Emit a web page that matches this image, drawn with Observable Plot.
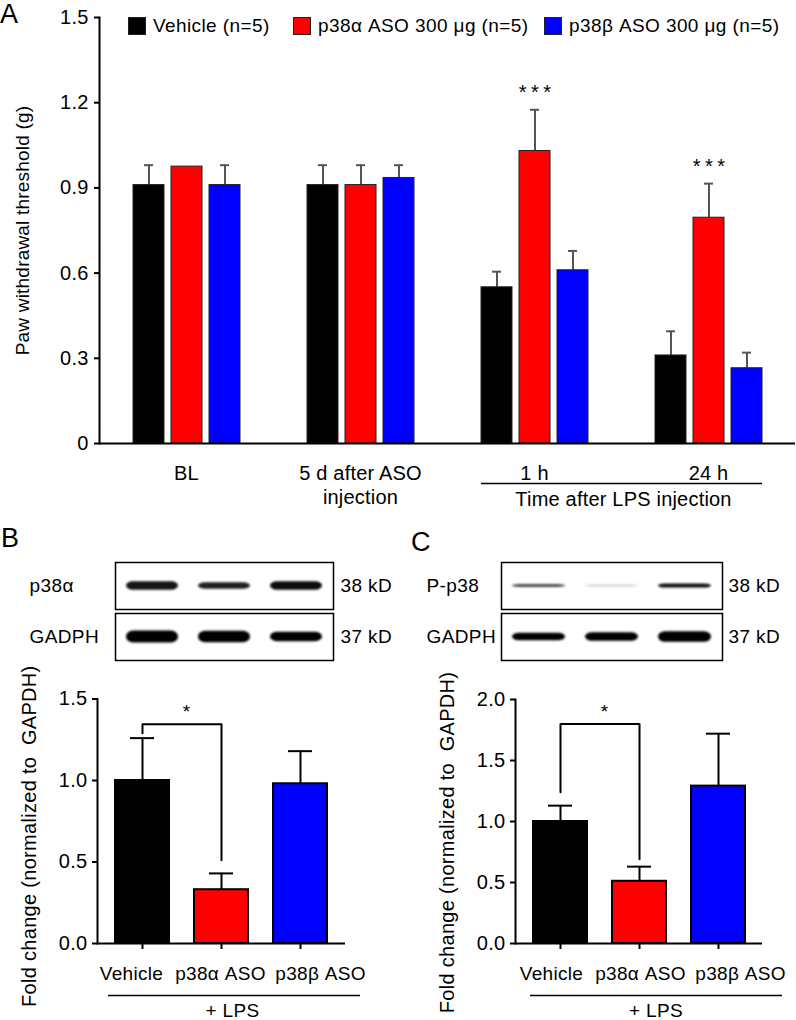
<!DOCTYPE html>
<html><head><meta charset="utf-8">
<script src="https://cdn.jsdelivr.net/npm/d3@7"></script>
<script src="https://cdn.jsdelivr.net/npm/@observablehq/plot@0.6"></script>
<style>
html,body{margin:0;padding:0;background:#fff;}
#fig{position:relative;width:796px;height:1020px;overflow:hidden;font-family:"Liberation Sans",Arial,sans-serif;color:#000;}
#fig svg{position:absolute;overflow:visible;}
.letter{position:absolute;font-size:27px;line-height:1.2;}
.leg{position:absolute;top:17px;height:17px;font-size:19px;display:flex;align-items:center;white-space:nowrap;letter-spacing:0.4px;}
.sw{width:16px;height:16px;border:1px solid #222;margin-right:7px;box-sizing:content-box;}
</style></head><body><div id="fig"></div>
<script>
// ---------- Panel A data ----------
const timepoints = ["BL", "5 d after ASO\ninjection", "1 h", "24 h"];
const seriesA = ["Vehicle (n=5)", "p38α ASO 300 μg (n=5)", "p38β ASO 300 μg (n=5)"];
const colorsA = ["#000000", "#ff0000", "#0000ff"];
const vehicleA = [0.91, 0.91, 0.55, 0.31];
const vehicleErrA = [0.07, 0.07, 0.055, 0.085];
const alphaA = [0.975, 0.91, 1.03, 0.795];
const alphaErrA = [0.0, 0.07, 0.145, 0.12];
const betaA = [0.91, 0.935, 0.61, 0.265];
const betaErrA = [0.07, 0.045, 0.068, 0.055];
const starsA = ["", "", "*\u2009*\u2009*", "*\u2009*\u2009*"];
const yTicksA = [0, 0.3, 0.6, 0.9, 1.2, 1.5];
const yTickLabelsA = ["0", "0.3", "0.6", "0.9", "1.2", "1.5"];
const lpsSpanA = ["1 h", "24 h"];

// ---------- Panels B / C data ----------
const groupsBC = ["Vehicle", "p38α ASO", "p38β ASO"];
const colorsBC = ["#000000", "#ff0000", "#0000ff"];
const foldB = [1.0, 0.33, 0.98];
const foldErrB = [0.26, 0.10, 0.20];
const foldC = [1.0, 0.51, 1.29];
const foldErrC = [0.13, 0.12, 0.43];
const yTicksB = [0, 0.5, 1.0, 1.5];
const yTicksC = [0, 0.5, 1.0, 1.5, 2.0];
const bracketB = [1.29, 1.345, 0.51];
const bracketC = [1.24, 1.80, 0.69];

// western blot rows (relative band thickness / darkness per lane)
const blotRowsB = ["p38α", "GADPH"];
const blotRowsC = ["P-p38", "GADPH"];
const kD = ["38 kD", "37 kD"];
const bandThickB = [[0.18, 0.14, 0.18], [0.26, 0.24, 0.2]];
const bandDarkB = [[0.92, 0.88, 0.95], [1, 1, 1]];
const bandThickC = [[0.06, 0.05, 0.09], [0.16, 0.18, 0.22]];
const bandDarkC = [[0.7, 0.15, 0.95], [1, 1, 1]];

const FONT = "Liberation Sans, Arial, sans-serif";
const fig = document.getElementById("fig");
function place(el, left, top) { el.style.left = left + "px"; el.style.top = top + "px"; fig.appendChild(el); }

// ---------- Panel A ----------
const errsA = [vehicleErrA, alphaErrA, betaErrA];
const rowsA = [];
timepoints.forEach((t, i) => {
  [vehicleA, alphaA, betaA].forEach((arr, j) => {
    rowsA.push({group: t, series: seriesA[j], value: arr[i], err: errsA[j][i], star: j === 1 ? starsA[i] : ""});
  });
});
const yTickRowsA = yTicksA.map((v, i) => ({v, label: yTickLabelsA[i]}));

const plotA = Plot.plot({
  width: 796, height: 520,
  marginLeft: 97, marginRight: 0, marginTop: 17, marginBottom: 77,
  style: {fontFamily: FONT, fontSize: "20px", background: "transparent", letterSpacing: "0.2px"},
  fx: {domain: timepoints, padding: 0, axis: null},
  x: {domain: seriesA, paddingInner: 0.195, paddingOuter: 0.85, axis: null},
  y: {domain: [0, 1.5], axis: null},
  color: {domain: seriesA, range: colorsA},
  marks: [
    Plot.axisY({ticks: yTicksA, tickFormat: () => "", tickSize: 5, strokeWidth: 2, label: null}),
    Plot.text(yTickRowsA, {y: "v", text: "label", frameAnchor: "left", textAnchor: "end", dx: -11,
      fontSize: 20, facetAnchor: "left"}),
    Plot.axisY({ticks: [], label: "Paw withdrawal threshold (g)", labelAnchor: "center", labelOffset: 84, labelArrow: "none", fontSize: 19}),
    Plot.axisFx({anchor: "bottom", tickSize: 0, tickPadding: 19, fontSize: 20, lineHeight: 1.2, label: null}),
    Plot.frame({anchor: "left", facetAnchor: "left", strokeWidth: 2}),
    Plot.ruleX(rowsA.filter(d => d.err > 0), {fx: "group", x: "series", y1: "value", y2: d => d.value + d.err, stroke: "#555", strokeWidth: 2}),
    Plot.tickY(rowsA.filter(d => d.err > 0), {fx: "group", x: "series", y: d => d.value + d.err, stroke: "#555", strokeWidth: 2, insetLeft: 11, insetRight: 11}),
    Plot.barY(rowsA, {fx: "group", x: "series", y: "value", fill: "series", stroke: "#222", strokeWidth: 1}),
    Plot.ruleY([0], {strokeWidth: 2}),
    Plot.text(rowsA.filter(d => d.star), {fx: "group", x: "series", y: d => d.value + d.err, text: "star", dy: -17, fontSize: 20}),
    Plot.ruleY([lpsSpanA[0]], {fx: d => d, y: 0, dy: 40, insetLeft: 34, strokeWidth: 1.5}),
    Plot.ruleY([lpsSpanA[1]], {fx: d => d, y: 0, dy: 40, insetRight: 33, strokeWidth: 1.5}),
    Plot.text([lpsSpanA[0]], {fx: d => d, frameAnchor: "bottom-right", text: () => "Time after LPS injection",
      textAnchor: "middle", lineAnchor: "top", dy: 48, dx: 2, fontSize: 20})
  ]
});
place(plotA, 0, 0);

// legend A
seriesA.forEach((s, i) => {
  const item = document.createElement("div");
  item.className = "leg";
  const sw = document.createElement("div");
  sw.className = "sw";
  sw.style.background = colorsA[i];
  const tx = document.createElement("span");
  tx.textContent = s;
  item.appendChild(sw); item.appendChild(tx);
  place(item, [128, 293, 544][i], 17);
});

// ---------- Blots ----------
function blotChart({rows, thick, dark, width, marginLeft, marginRight, labelDx, kdDx}) {
  const bands = [];
  rows.forEach((r, i) => groupsBC.forEach((g, j) => bands.push({row: r, lane: g, t: thick[i][j], o: dark[i][j]})));
  const labels = rows.map((r, i) => ({row: r, kd: kD[i]}));
  return Plot.plot({
    width, height: 125, marginTop: 17, marginBottom: 10, marginLeft, marginRight,
    style: {fontFamily: FONT, fontSize: "19px", background: "transparent", letterSpacing: "0.4px"},
    fy: {domain: rows, paddingInner: 0.08, paddingOuter: 0, axis: null},
    x: {domain: groupsBC, padding: 0, axis: null},
    y: {domain: [-1, 1], axis: null},
    marks: [
      Plot.frame({strokeWidth: 1.5}),
      Plot.barY(bands, {fy: "row", x: "lane", y1: d => -d.t, y2: d => d.t, fill: "black", fillOpacity: "o",
        insetLeft: 10, insetRight: 10, rx: 7, imageFilter: "blur(0.9px)"}),
      Plot.text(labels, {fy: "row", frameAnchor: "left", text: "row", textAnchor: "start", dx: labelDx, fontSize: 19}),
      Plot.text(labels, {fy: "row", frameAnchor: "right", text: "kd", textAnchor: "start", dx: kdDx, fontSize: 19})
    ]
  });
}
place(blotChart({rows: blotRowsB, thick: bandThickB, dark: bandDarkB, width: 400, marginLeft: 115, marginRight: 67, labelDx: -86, kdDx: 7}), 0, 545);
place(blotChart({rows: blotRowsC, thick: bandThickC, dark: bandDarkC, width: 406, marginLeft: 111, marginRight: 74, labelDx: -75, kdDx: 6}), 390, 545);

// ---------- Fold-change bar charts ----------
function foldChart({values, errs, ticks, ymax, bracket, width, marginLeft, marginRight, marginTop, labelDy, underline, lpsDx, labelShift}) {
  const rows = groupsBC.map((g, i) => ({group: g, value: values[i], err: errs[i]}));
  const br = [
    {group: groupsBC[0], y: bracket[0]}, {group: groupsBC[0], y: bracket[1]},
    {group: groupsBC[1], y: bracket[1]}, {group: groupsBC[1], y: bracket[2]}
  ];
  return Plot.plot({
    width, height: 350, marginTop, marginBottom: 77, marginLeft, marginRight,
    style: {fontFamily: FONT, fontSize: "19px", background: "transparent", letterSpacing: "0.3px"},
    x: {domain: groupsBC, paddingInner: 0.32, paddingOuter: 0.22, axis: null},
    y: {domain: [0, ymax], axis: null},
    color: {domain: groupsBC, range: colorsBC},
    marks: [
      Plot.axisY({ticks, tickFormat: () => "", tickSize: 5, strokeWidth: 2, label: null}),
      Plot.text(ticks, {y: d => d, text: d => d.toFixed(1), frameAnchor: "left", textAnchor: "end", dx: -10, fontSize: 20}),
      Plot.axisX({tickSize: 6, tickFormat: () => "", strokeWidth: 2, label: null}),
      ...groupsBC.map((g, i) => Plot.text([g], {x: d => d, frameAnchor: "bottom", text: d => d,
        lineAnchor: "top", dy: 23, dx: labelShift[i], fontSize: 19})),
      Plot.ruleX(rows, {x: "group", y1: "value", y2: d => d.value + d.err, strokeWidth: 2}),
      Plot.tickY(rows, {x: "group", y: d => d.value + d.err, strokeWidth: 2, insetLeft: 15, insetRight: 15}),
      Plot.barY(rows, {x: "group", y: "value", fill: "group", stroke: "black", strokeWidth: 2}),
      Plot.frame({anchor: "left", strokeWidth: 2}),
      Plot.ruleY([0], {strokeWidth: 2}),
      Plot.line(br, {x: "group", y: "y", strokeWidth: 2}),
      Plot.text(["*"], {x: () => groupsBC[0], y: () => bracket[1], text: d => d, dx: 44, dy: -12, fontSize: 19}),
      Plot.text(["Fold change (normalized to  GAPDH)"], {frameAnchor: "left", text: d => d, rotate: -90,
        lineAnchor: "top", textAnchor: "middle", dx: -76, dy: labelDy, fontSize: 20}),
      Plot.ruleY([0], {dy: 52, insetLeft: underline[0], insetRight: underline[1], strokeWidth: 1.5}),
      Plot.text(["+ LPS"], {frameAnchor: "bottom", text: d => d, lineAnchor: "top", dy: 60, dx: lpsDx, fontSize: 19})
    ]
  });
}
place(foldChart({values: foldB, errs: foldErrB, ticks: yTicksB, ymax: 1.5, bracket: bracketB, width: 390,
  marginLeft: 97, marginRight: 45, marginTop: 28.5, labelDy: 15, underline: [11, -15], lpsDx: 11,
  labelShift: [-11, -1, 20]}), 0, 670);
place(foldChart({values: foldC, errs: foldErrC, ticks: yTicksC, ymax: 2.0, bracket: bracketC, width: 406,
  marginLeft: 125, marginRight: 34, marginTop: 29, labelDy: 21, underline: [15, -20], lpsDx: 17,
  labelShift: [-9, 1, 22]}), 390, 670);

// panel letters
[["A", 0, -2], ["B", 1, 522], ["C", 411, 526]].forEach(([t, x, y]) => {
  const d = document.createElement("div");
  d.className = "letter";
  d.textContent = t;
  place(d, x, y);
});
</script>
</body></html>
